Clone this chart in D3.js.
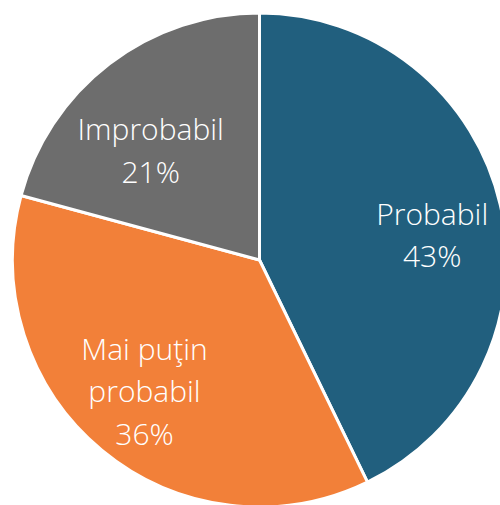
<!DOCTYPE html>
<html>
<head>
<meta charset="utf-8">
<script src="https://cdn.jsdelivr.net/npm/d3@7"></script>
<style>
  body { margin: 0; background: #fff; }
  svg { display: block; }
  .slice-label { font-family: "Open Sans", "Noto Sans", sans-serif; font-weight: 350; fill: #fff; }
</style>
</head>
<body>
<div id="chart"></div>
<script>
// chart data (shares, labels as printed)
const categories = ["Probabil", "Mai puţin probabil", "Improbabil"];
const values = [42.8, 36.4, 20.8];
const labelLines = [["Probabil"], ["Mai puţin", "probabil"], ["Improbabil"]];
const percentLabels = ["43%", "36%", "21%"];

const colors = {"Probabil": "#215f7e", "Mai puţin probabil": "#f28039", "Improbabil": "#6d6d6d"};
// small nudges so labels sit where the original put them
const labelNudge = {"Probabil": [3, 14], "Mai puţin probabil": [-4, -3], "Improbabil": [-3, 29]};

let width = 500, height = 505;
let cx = 259.5, cy = 260, radius = 247;
let fontSize = 30, lineHeight = 42.5, capHalf = 11;

let svg = d3.select("#chart").append("svg")
    .attr("width", width)
    .attr("height", height);

let g = svg.append("g")
    .attr("transform", `translate(${cx}, ${cy})`);

let pie = d3.pie()
    .sort(null)
    .value(d => d.value);

let data = categories.map((c, i) => ({name: c, value: values[i], lines: labelLines[i].concat(percentLabels[i])}));
let arcs = pie(data);

let arc = d3.arc().innerRadius(0).outerRadius(radius);
let labelArc = d3.arc().innerRadius(radius * 0.705).outerRadius(radius * 0.705);

g.selectAll("path.slice")
    .data(arcs)
    .enter().append("path")
    .attr("class", "slice")
    .attr("d", arc)
    .attr("fill", d => colors[d.data.name])
    .attr("stroke", "#fff")
    .attr("stroke-width", 3)
    .attr("stroke-linejoin", "round");

let labels = g.selectAll("text.slice-label")
    .data(arcs)
    .enter().append("text")
    .attr("class", "slice-label")
    .attr("text-anchor", "middle")
    .attr("font-size", fontSize)
    .attr("transform", d => {
        let c = labelArc.centroid(d);
        let n = labelNudge[d.data.name];
        return `translate(${c[0] + n[0]}, ${c[1] + n[1]})`;
    });

labels.each(function (d) {
    let lines = d.data.lines;
    let first = -(lines.length - 1) * lineHeight / 2 + capHalf;
    d3.select(this).selectAll("tspan")
        .data(lines)
        .enter().append("tspan")
        .attr("x", 0)
        .attr("y", (l, i) => first + i * lineHeight)
        .text(l => l);
});
</script>
</body>
</html>
